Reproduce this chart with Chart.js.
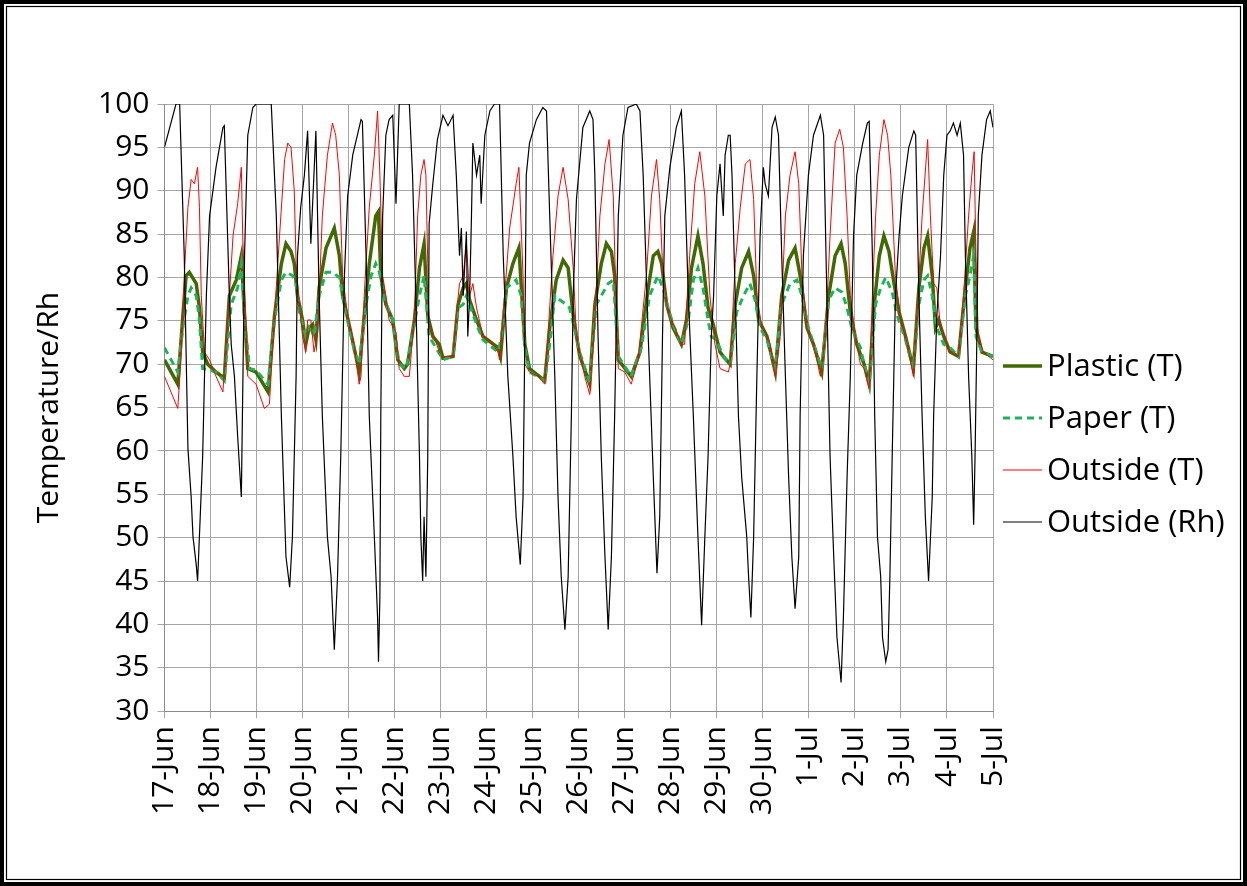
<!DOCTYPE html>
<html>
<head>
<meta charset="utf-8">
<script src="https://cdn.jsdelivr.net/npm/chart.js@4.4.1/dist/chart.umd.min.js"></script>
<style>
  html, body { margin: 0; padding: 0; background: #fff; }
  #wrap { width: 1247px; height: 886px; position: relative; }
</style>
</head>
<body>
<div id="wrap"><canvas id="chart"></canvas></div>
<script>
// x = days since 17-Jun 00:00
const dayLabels = ['17-Jun','18-Jun','19-Jun','20-Jun','21-Jun','22-Jun','23-Jun','24-Jun','25-Jun',
  '26-Jun','27-Jun','28-Jun','29-Jun','30-Jun','1-Jul','2-Jul','3-Jul','4-Jul','5-Jul'];

const plastic = [[0,70.5],[0.29,67.7],[0.40,75.6],[0.47,80.2],[0.54,80.6],[0.69,79.3],[0.76,76.5],[0.83,71.4],[0.94,70.0],[1.12,69.1],[1.30,68.4],[1.41,77.9],[1.56,79.7],[1.67,82.5],[1.74,75.6],[1.81,69.5],[1.99,69.1],[2.25,66.8],[2.39,75.6],[2.54,81.6],[2.64,83.9],[2.75,83.0],[2.82,81.6],[2.89,77.9],[3.0,75.1],[3.07,72.3],[3.14,74.2],[3.22,74.6],[3.29,72.8],[3.36,78.8],[3.51,83.4],[3.69,85.7],[3.80,82.5],[3.87,77.9],[4.01,74.6],[4.16,70.9],[4.23,69.1],[4.34,75.6],[4.45,81.6],[4.59,87.1],[4.65,87.6],[4.70,80.2],[4.81,76.9],[4.96,75.1],[5.07,70.5],[5.21,69.5],[5.28,70.0],[5.43,75.1],[5.54,81.1],[5.64,83.9],[5.72,75.6],[5.83,73.2],[5.97,72.3],[6.05,70.7],[6.27,70.9],[6.38,76.9],[6.49,78.8],[6.56,79.3],[6.63,77.4],[6.78,75.1],[6.92,73.2],[7.25,71.9],[7.30,70.9],[7.43,78.8],[7.57,81.6],[7.70,83.4],[7.83,72.3],[7.93,69.5],[8.26,68.1],[8.37,74.2],[8.51,79.7],[8.66,82.0],[8.77,81.1],[8.88,75.6],[9.02,71.0],[9.24,67.7],[9.35,76.9],[9.49,81.6],[9.60,83.9],[9.71,83.0],[9.78,80.2],[9.86,70.5],[10.14,68.6],[10.33,71.4],[10.51,78.8],[10.62,82.5],[10.72,83.0],[10.80,81.6],[10.91,76.9],[11.05,74.2],[11.23,72.3],[11.34,75.1],[11.45,81.1],[11.59,84.8],[11.70,81.6],[11.81,76.5],[11.92,74.6],[12.07,71.4],[12.14,70.9],[12.29,70.0],[12.40,76.9],[12.54,81.1],[12.69,83.0],[12.80,80.2],[12.91,75.1],[13.09,73.2],[13.27,69.1],[13.41,77.9],[13.56,82.0],[13.70,83.4],[13.81,80.2],[13.96,74.2],[14.10,72.3],[14.28,69.1],[14.43,77.9],[14.57,82.5],[14.70,83.9],[14.79,81.6],[14.90,76.0],[15.04,72.3],[15.20,70.0],[15.31,67.7],[15.42,76.9],[15.53,82.5],[15.63,84.8],[15.74,83.0],[15.85,79.3],[15.96,76.0],[16.10,73.2],[16.27,69.5],[16.39,78.8],[16.50,83.4],[16.58,84.8],[16.68,80.2],[16.75,74.2],[16.82,75.1],[16.93,73.2],[17.07,71.4],[17.25,70.9],[17.40,78.8],[17.50,83.4],[17.58,85.3],[17.63,74.2],[17.76,71.4],[18.0,70.9]];

const paper = [[0,71.9],[0.29,69.1],[0.40,74.2],[0.51,77.9],[0.58,78.8],[0.69,77.9],[0.76,75.1],[0.83,69.5],[1.12,69.1],[1.30,68.1],[1.45,76.9],[1.59,78.8],[1.67,81.6],[1.74,75.1],[1.85,69.5],[1.99,69.3],[2.25,67.7],[2.39,75.1],[2.54,79.7],[2.64,80.6],[2.79,80.2],[2.86,79.3],[2.93,76.0],[3.07,73.2],[3.14,74.6],[3.25,73.2],[3.36,77.9],[3.51,80.6],[3.65,80.6],[3.80,80.0],[3.87,77.9],[4.01,74.2],[4.16,70.9],[4.23,70.0],[4.38,76.9],[4.49,80.2],[4.59,81.6],[4.67,80.6],[4.78,77.4],[4.96,75.1],[5.10,70.0],[5.25,69.5],[5.43,74.6],[5.54,77.9],[5.64,80.2],[5.75,73.2],[5.90,71.9],[6.05,70.5],[6.27,70.9],[6.38,76.5],[6.49,76.9],[6.56,77.9],[6.63,76.9],[6.78,74.6],[6.92,72.8],[7.25,71.4],[7.32,73.2],[7.43,78.8],[7.64,79.7],[7.75,77.9],[7.83,71.9],[7.93,69.1],[8.26,68.1],[8.37,72.3],[8.48,77.9],[8.59,77.4],[8.73,76.9],[8.80,76.5],[8.95,73.2],[9.02,71.4],[9.24,67.9],[9.38,76.9],[9.49,77.9],[9.64,79.3],[9.75,79.7],[9.86,70.9],[10.14,68.6],[10.36,71.9],[10.54,77.9],[10.72,80.2],[10.83,78.8],[10.94,76.5],[11.05,74.6],[11.23,72.3],[11.38,75.1],[11.49,79.7],[11.59,81.1],[11.70,78.8],[11.81,75.1],[11.88,73.2],[11.99,72.8],[12.14,70.9],[12.29,70.0],[12.43,76.0],[12.58,77.9],[12.72,79.3],[12.83,77.4],[12.94,74.2],[13.09,72.8],[13.27,69.5],[13.41,76.9],[13.59,79.3],[13.74,79.7],[13.85,77.9],[13.99,74.2],[14.28,69.5],[14.43,77.4],[14.57,78.8],[14.72,78.3],[14.83,76.5],[14.93,74.2],[15.12,71.9],[15.20,70.0],[15.31,67.7],[15.45,76.9],[15.56,78.8],[15.67,80.0],[15.81,78.3],[15.92,75.6],[16.10,72.8],[16.27,69.5],[16.39,76.9],[16.50,79.7],[16.58,80.2],[16.68,77.9],[16.78,74.2],[16.93,72.3],[17.07,71.9],[17.25,70.9],[17.40,77.9],[17.50,80.2],[17.58,82.5],[17.63,73.2],[17.76,71.4],[18.0,70.9]];

const outsideT = [[0,68.6],[0.29,64.9],[0.36,70.9],[0.43,80.2],[0.51,88.1],[0.58,91.3],[0.65,90.8],[0.72,92.7],[0.76,88.1],[0.80,77.9],[0.87,71.4],[0.98,70.5],[1.12,68.6],[1.27,66.8],[1.41,77.9],[1.49,84.8],[1.59,88.5],[1.67,92.7],[1.70,84.8],[1.78,73.2],[1.81,68.6],[1.99,67.7],[2.17,64.9],[2.28,65.4],[2.39,75.6],[2.50,84.8],[2.61,93.6],[2.68,95.5],[2.75,95.0],[2.82,90.0],[2.86,81.6],[2.93,76.9],[3.0,73.2],[3.07,71.4],[3.11,75.1],[3.18,75.1],[3.25,71.4],[3.33,73.7],[3.43,87.1],[3.54,94.1],[3.65,97.8],[3.72,96.4],[3.80,91.8],[3.87,80.2],[3.98,75.6],[4.12,72.3],[4.23,67.7],[4.27,68.6],[4.34,77.9],[4.45,88.1],[4.56,94.1],[4.63,99.2],[4.68,91.8],[4.74,80.2],[4.81,77.9],[4.88,75.1],[5.03,73.7],[5.10,69.5],[5.21,68.6],[5.32,68.6],[5.43,75.6],[5.50,87.1],[5.57,91.8],[5.64,93.6],[5.68,91.8],[5.72,81.6],[5.75,74.2],[5.86,73.2],[5.97,71.4],[6.05,70.9],[6.27,70.9],[6.34,75.6],[6.41,79.3],[6.49,80.2],[6.56,83.9],[6.63,77.9],[6.70,79.3],[6.78,76.5],[6.92,73.2],[7.07,72.8],[7.25,71.4],[7.28,70.5],[7.39,77.9],[7.50,85.7],[7.64,90.8],[7.70,92.7],[7.79,80.2],[7.83,70.0],[7.93,69.1],[8.12,68.6],[8.26,67.7],[8.33,73.2],[8.44,82.5],[8.55,89.4],[8.66,92.7],[8.77,89.0],[8.88,81.1],[8.95,73.2],[9.02,71.4],[9.13,68.6],[9.24,66.5],[9.35,75.1],[9.46,87.1],[9.57,93.1],[9.66,95.9],[9.75,89.4],[9.82,75.1],[9.86,69.5],[10.0,69.1],[10.14,67.7],[10.29,70.5],[10.47,80.2],[10.58,89.4],[10.69,93.6],[10.76,89.0],[10.83,80.2],[10.94,76.0],[11.09,74.2],[11.23,72.3],[11.30,72.3],[11.41,82.5],[11.52,90.8],[11.63,94.5],[11.74,89.4],[11.85,77.9],[11.92,74.2],[11.96,72.3],[12.07,69.5],[12.25,69.1],[12.29,70.0],[12.40,81.6],[12.51,88.1],[12.62,93.1],[12.72,93.6],[12.80,89.0],[12.87,77.9],[12.98,74.2],[13.09,73.2],[13.16,72.3],[13.27,68.6],[13.38,73.2],[13.49,87.1],[13.59,91.8],[13.70,94.5],[13.78,90.8],[13.85,80.2],[13.96,74.2],[14.10,72.3],[14.25,68.6],[14.36,73.2],[14.46,84.8],[14.57,95.5],[14.67,97.1],[14.75,95.0],[14.83,87.1],[14.90,77.9],[15.01,73.2],[15.12,70.0],[15.20,69.5],[15.31,67.2],[15.38,77.9],[15.45,87.1],[15.53,94.1],[15.63,98.2],[15.71,96.4],[15.78,91.8],[15.88,80.2],[15.99,75.1],[16.14,72.3],[16.27,68.6],[16.35,75.6],[16.46,87.1],[16.58,95.9],[16.64,87.1],[16.71,79.3],[16.78,78.8],[16.86,74.2],[16.96,73.2],[17.04,71.4],[17.14,71.4],[17.25,70.9],[17.36,77.9],[17.47,87.1],[17.54,91.8],[17.59,94.5],[17.63,82.5],[17.68,73.2],[17.79,71.4],[18.0,70.5]];

const outsideRh = [[0,95.0],[0.25,100],[0.33,100],[0.43,82.5],[0.51,60.3],[0.58,54.7],[0.62,50.1],[0.69,46.9],[0.72,45.0],[0.83,59.4],[0.91,77.9],[0.98,87.1],[1.12,92.7],[1.27,97.3],[1.30,97.5],[1.41,77.9],[1.45,72.3],[1.52,68.6],[1.59,61.7],[1.67,54.7],[1.74,82.5],[1.81,96.4],[1.92,99.6],[1.99,100],[2.32,100],[2.43,87.1],[2.54,64.0],[2.64,47.8],[2.72,44.3],[2.78,50.1],[2.86,68.6],[2.89,82.5],[2.96,88.1],[3.04,91.8],[3.11,96.9],[3.18,83.9],[3.29,96.9],[3.36,77.9],[3.43,64.0],[3.54,50.1],[3.62,45.5],[3.69,37.1],[3.76,45.5],[3.83,59.4],[3.91,80.2],[3.98,89.4],[4.09,94.1],[4.27,98.2],[4.30,98.0],[4.38,82.5],[4.45,64.0],[4.56,50.1],[4.63,40.8],[4.65,35.7],[4.68,43.1],[4.70,64.0],[4.74,87.1],[4.81,96.4],[4.88,98.2],[4.96,98.7],[5.03,88.5],[5.10,100],[5.32,100],[5.39,91.8],[5.46,77.9],[5.54,59.4],[5.57,50.1],[5.61,45.0],[5.64,52.4],[5.68,45.5],[5.72,59.4],[5.75,86.2],[5.83,90.8],[5.93,95.9],[6.05,98.7],[6.16,97.5],[6.27,98.7],[6.34,91.8],[6.41,82.5],[6.45,85.7],[6.49,77.9],[6.56,85.3],[6.59,73.2],[6.63,77.9],[6.67,87.1],[6.70,95.5],[6.78,91.8],[6.85,94.1],[6.88,88.5],[6.96,96.4],[7.07,99.2],[7.17,100],[7.28,100],[7.36,82.5],[7.46,68.6],[7.57,59.4],[7.64,52.4],[7.73,46.9],[7.79,54.7],[7.83,73.2],[7.86,91.8],[7.93,95.5],[8.08,98.2],[8.22,99.6],[8.30,99.2],[8.37,87.1],[8.48,68.6],[8.55,54.7],[8.62,45.5],[8.70,39.4],[8.77,45.5],[8.84,64.0],[8.88,77.9],[8.95,89.0],[9.09,97.3],[9.24,99.2],[9.31,98.2],[9.35,91.8],[9.42,73.2],[9.49,59.4],[9.57,47.8],[9.64,39.4],[9.71,47.8],[9.78,64.0],[9.86,87.1],[9.96,96.4],[10.07,99.6],[10.25,100],[10.33,99.2],[10.40,91.8],[10.51,73.2],[10.62,57.0],[10.70,45.9],[10.76,52.4],[10.82,73.2],[10.87,87.1],[10.98,92.7],[11.12,97.3],[11.23,99.2],[11.30,91.8],[11.38,77.9],[11.49,64.0],[11.59,50.1],[11.67,39.9],[11.74,50.1],[11.81,59.4],[11.88,73.2],[11.93,77.9],[12.0,89.4],[12.07,93.1],[12.14,87.1],[12.18,94.1],[12.25,96.4],[12.29,96.4],[12.33,91.8],[12.40,77.9],[12.47,64.0],[12.54,57.0],[12.65,50.1],[12.69,45.5],[12.74,40.8],[12.80,50.1],[12.87,68.6],[12.94,84.8],[13.01,92.7],[13.05,90.8],[13.12,89.4],[13.20,97.3],[13.27,98.5],[13.34,96.4],[13.41,82.5],[13.49,68.6],[13.56,57.0],[13.63,47.8],[13.70,41.8],[13.78,47.8],[13.81,64.0],[13.88,82.5],[13.99,91.8],[14.10,96.4],[14.25,98.7],[14.32,96.4],[14.39,77.9],[14.46,59.4],[14.54,47.8],[14.61,38.5],[14.70,33.3],[14.75,40.8],[14.83,57.0],[14.90,68.6],[14.97,84.8],[15.04,91.8],[15.17,95.5],[15.27,97.8],[15.31,98.0],[15.38,82.5],[15.43,64.0],[15.49,50.1],[15.56,45.5],[15.60,38.5],[15.67,35.7],[15.72,37.1],[15.76,45.5],[15.81,59.4],[15.88,77.9],[15.96,84.8],[16.03,89.4],[16.17,95.0],[16.28,96.9],[16.32,96.4],[16.39,77.9],[16.46,64.0],[16.53,52.4],[16.60,45.0],[16.68,54.7],[16.71,64.0],[16.78,75.6],[16.86,82.5],[16.93,91.8],[17.0,96.4],[17.07,96.9],[17.14,97.8],[17.22,96.4],[17.29,97.8],[17.36,94.1],[17.40,82.5],[17.47,68.6],[17.54,59.4],[17.58,51.5],[17.61,59.4],[17.65,73.2],[17.68,87.1],[17.76,94.1],[17.86,98.2],[17.94,99.2],[18.0,97.3]];

const toPoints = arr => arr.map(p => ({x: p[0], y: p[1]}));
const FONT = '"Open Sans", "Noto Sans", sans-serif';
const gridColor = '#a6a6a6';

// white page + double frame like the exported picture
const framePlugin = {
  id: 'frame',
  beforeDraw(chart) {
    const ctx = chart.ctx;
    ctx.save();
    ctx.fillStyle = '#fff';
    ctx.fillRect(0, 0, chart.width, chart.height);
    ctx.restore();
  },
  afterDraw(chart) {
    const ctx = chart.ctx, w = chart.width, h = chart.height;
    ctx.save();
    ctx.strokeStyle = '#000';
    ctx.lineWidth = 4;
    ctx.strokeRect(2, 2, w - 4, h - 4);
    ctx.lineWidth = 1.2;
    ctx.strokeRect(6.5, 6.5, w - 13, h - 13);
    ctx.restore();
  }
};

// legend on the right, drawn from the dataset styles
const sideLegend = {
  id: 'sideLegend',
  afterDraw(chart) {
    const ctx = chart.ctx;
    const x0 = chart.chartArea.right + 10;
    ctx.save();
    ctx.font = '31px ' + FONT;
    ctx.textBaseline = 'middle';
    ctx.fillStyle = '#000';
    chart.data.datasets.forEach((ds, i) => {
      const y = 366 + i * 52;
      ctx.strokeStyle = ds.borderColor;
      ctx.lineWidth = ds.borderWidth;
      ctx.setLineDash(ds.borderDash || []);
      ctx.beginPath();
      ctx.moveTo(x0, y);
      ctx.lineTo(x0 + 39, y);
      ctx.stroke();
      ctx.setLineDash([]);
      ctx.fillText(ds.label, x0 + 44, y + 1);
    });
    ctx.restore();
  }
};

new Chart(document.getElementById('chart'), {
  type: 'line',
  data: {
    datasets: [
      { label: 'Plastic (T)', data: toPoints(plastic), borderColor: '#3e6b00', borderWidth: 3.5, order: 4 },
      { label: 'Paper (T)', data: toPoints(paper), borderColor: '#1db35a', borderWidth: 3, borderDash: [7, 5], order: 3 },
      { label: 'Outside (T)', data: toPoints(outsideT), borderColor: '#ff0000', borderWidth: 1, order: 2 },
      { label: 'Outside (Rh)', data: toPoints(outsideRh), borderColor: '#000000', borderWidth: 1.2, order: 1 }
    ]
  },
  options: {
    responsive: true,
    maintainAspectRatio: false,
    animation: false,
    elements: { point: { radius: 0 }, line: { tension: 0, fill: false } },
    layout: { padding: { left: 12, top: 104, right: 254, bottom: 63 } },
    scales: {
      x: {
        type: 'linear', min: 0, max: 18,
        ticks: {
          stepSize: 1, autoSkip: false, maxRotation: 90, minRotation: 90,
          callback: v => dayLabels[v], color: '#000', padding: 8,
          font: { family: FONT, size: 30 }
        },
        grid: { color: gridColor, tickLength: 7 },
        border: { color: '#8c8c8c' }
      },
      y: {
        min: 30, max: 100,
        ticks: { stepSize: 5, color: '#000', padding: 8, font: { family: FONT, size: 30 } },
        title: {
          display: true, text: 'Temperature/Rh', color: '#000',
          font: { family: FONT, size: 30 }, padding: { top: 19, bottom: 23 }
        },
        grid: { color: gridColor, tickLength: 7 },
        border: { color: '#8c8c8c' }
      }
    },
    plugins: { legend: { display: false }, tooltip: { enabled: false } }
  },
  plugins: [framePlugin, sideLegend]
});
</script>
</body>
</html>
